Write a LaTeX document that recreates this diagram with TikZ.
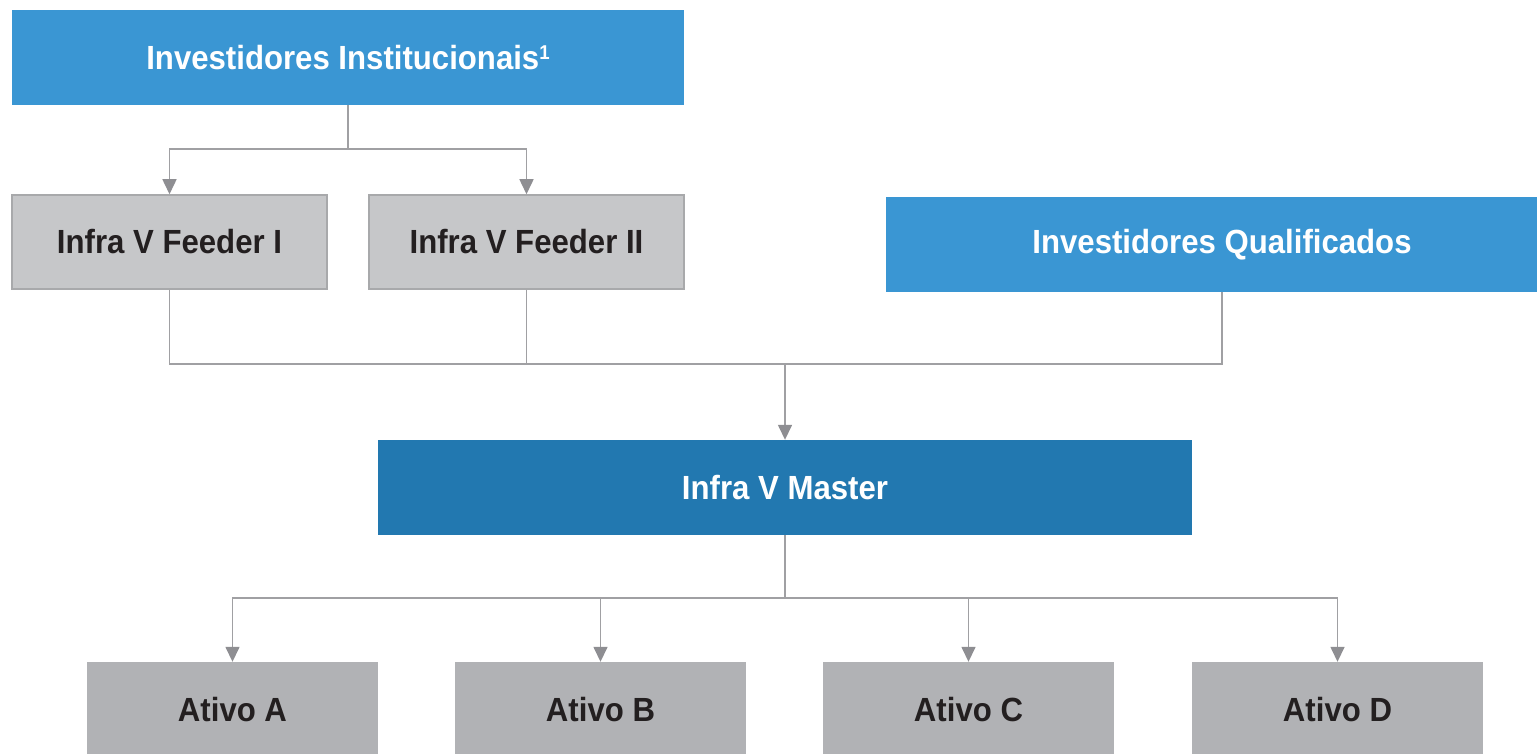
\documentclass[tikz,border=0pt]{standalone}
\usepackage{fontspec}
\setmainfont{Liberation Sans}[FakeStretch=0.93]
\usetikzlibrary{arrows.meta}
\definecolor{instblue}{HTML}{3A96D3}
\definecolor{masterblue}{HTML}{2278B0}
\definecolor{feedgray}{HTML}{C6C7C9}
\definecolor{feedline}{HTML}{A8A9AB}
\definecolor{ativogray}{HTML}{B1B2B5}
\definecolor{linegray}{HTML}{A0A0A3}
\definecolor{tipgray}{HTML}{8E8E92}
\definecolor{darktext}{HTML}{231F20}
\tikzset{
  box/.style={rectangle, inner sep=0pt, font=\fontsize{33.5}{40}\selectfont\bfseries},
  bluebox/.style={box, fill=instblue, text=white, minimum height=95pt},
  feedbox/.style={box, fill=feedgray, draw=feedline, line width=1.5pt, text=darktext,
                  minimum width=315pt, minimum height=94pt},
  ativobox/.style={box, fill=ativogray, text=darktext, minimum width=291pt, minimum height=95pt},
  conn/.style={draw=linegray, line width=1.5pt},
  arr/.style={conn, -{Triangle[length=15pt,width=14pt,color=tipgray]}}
}
\begin{document}
\begin{tikzpicture}[x=1pt,y=-1pt]
                         \useasboundingbox (0,0) rectangle (1537,754);
                         % Nodes
                         \node[bluebox, minimum width=672pt] (inst) at (348,57.5) {Investidores Institucionais\raisebox{10pt}{\fontsize{20}{22}\selectfont 1}};
                         \node[feedbox] (f1) at (169.5,242) {Infra V Feeder I};
                         \node[feedbox] (f2) at (526.5,242) {Infra V Feeder II};
                         \node[bluebox, minimum width=672pt] (qual) at (1222,244.5) {Investidores Qualificados};
                         \node[bluebox, fill=masterblue, minimum width=814pt] (master) at (785,487.5) {Infra V Master};
                         \node[ativobox] (aA) at (232.5,709.5) {Ativo A};
                         \node[ativobox] (aB) at (600.5,709.5) {Ativo B};
                         \node[ativobox] (aC) at (968.5,709.5) {Ativo C};
                         \node[ativobox] (aD) at (1337.5,709.5) {Ativo D};
                         \coordinate (j1) at (348,149);
                         \coordinate (j2) at (785,364);
                         \coordinate (j3) at (785,598);
                         
                         % Arrows
                         \draw[conn] (inst.south) -- (j1);
                         \draw[arr] (j1) -| (f1.north);
                         \draw[arr] (j1) -| (f2.north);
                         \draw[conn] (f1.south) |- (j2);
                         \draw[conn] (f2.south) |- (j2);
                         \draw[conn] (qual.south) |- (j2);
                         \draw[arr] (j2) -- (master.north);
                         \draw[conn] (master.south) -- (j3);
                         \foreach \a in {aA,aB,aC,aD}
                           \draw[arr] (j3) -| (\a.north);
                    \end{tikzpicture}
\end{document}
